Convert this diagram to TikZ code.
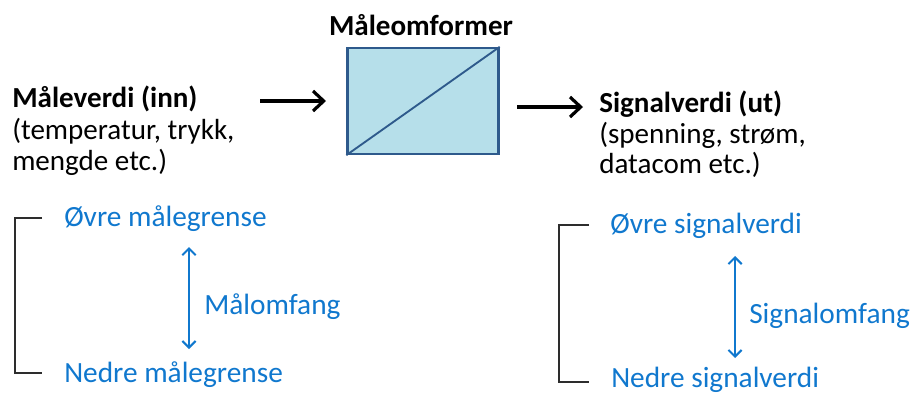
\documentclass[tikz,border=0pt]{standalone}
\usepackage{fontspec}
\setmainfont{Carlito}
\usetikzlibrary{arrows.meta}
\definecolor{boxfill}{RGB}{182,223,234}
\definecolor{boxline}{RGB}{46,90,140}
\definecolor{lblue}{RGB}{16,120,206}
\definecolor{brk}{RGB}{45,45,45}
\tikzset{
  blk/.style={font=\fontsize{21.8}{26}\selectfont, inner sep=0pt, anchor=base west},
  blkb/.style={blk, font=\fontsize{21.8}{26}\selectfont\bfseries},
  blu/.style={font=\fontsize{22}{26}\selectfont, text=lblue, inner sep=0pt, anchor=base west},
  bigarrow/.style={line width=2.4pt, -{Straight Barb[length=8pt,width=15pt,line width=2.4pt]}},
  rangearrow/.style={lblue, line width=1.5pt, {Straight Barb[length=5pt,width=10pt]}-{Straight Barb[length=5pt,width=10pt]}},
  bracketline/.style={brk, line width=1.7pt}
}
\begin{document}
\begin{tikzpicture}[x=0.75pt,y=-0.75pt]
\useasboundingbox (0,0) rectangle (912,394);
% converter box
\node[draw=boxline, fill=boxfill, line width=1.8pt, minimum width=151pt*0.75, minimum height=106pt*0.75, inner sep=0pt] (box) at (423,101) {};
\draw[boxline, line width=1.4pt] (box.south west) -- (box.north east);
\node[blkb, anchor=base] (title) at (421,35) {Måleomformer};
% input text
\node[blkb] (inn) at (12,107) {Måleverdi (inn)};
\node[blk] (inn2) at (12,139) {(temperatur, trykk,};
\node[blk] (inn3) at (12,170) {mengde etc.)};
% output text
\node[blkb] (ut) at (599,112) {Signalverdi (ut)};
\node[blk] (ut2) at (599,143) {(spenning, strøm,};
\node[blk] (ut3) at (599,173) {datacom etc.)};
% arrows
\coordinate (a1s) at (260,101);
\coordinate (a1e) at (326,101);
\draw[bigarrow] (a1s) -- (a1e);
\coordinate (a2s) at (517,107);
\coordinate (a2e) at (583,107);
\draw[bigarrow] (a2s) -- (a2e);
% left range
\node[blu] (ovm) at (64,226) {Øvre målegrense};
\node[blu] (nem) at (64,382) {Nedre målegrense};
\node[blu] (mo) at (204,314) {Målomfang};
\coordinate (lt) at (189,247);
\coordinate (lb) at (189,349);
\draw[rangearrow] (lt) -- (lb);
\coordinate (b1a) at (42,218);
\coordinate (b1b) at (15,218);
\coordinate (b1c) at (15,373);
\coordinate (b1d) at (42,373);
\draw[bracketline] (b1a) -- (b1b) -- (b1c) -- (b1d);
% right range
\node[blu] (ovs) at (610,233) {Øvre signalverdi};
\node[blu] (nes) at (611,387) {Nedre signalverdi};
\node[blu] (so) at (749,323) {Signalomfang};
\coordinate (rt) at (735,256);
\coordinate (rb) at (735,358);
\draw[rangearrow] (rt) -- (rb);
\coordinate (b2a) at (589,225);
\coordinate (b2b) at (559,225);
\coordinate (b2c) at (559,382);
\coordinate (b2d) at (589,382);
\draw[bracketline] (b2a) -- (b2b) -- (b2c) -- (b2d);
\end{tikzpicture}
\end{document}
